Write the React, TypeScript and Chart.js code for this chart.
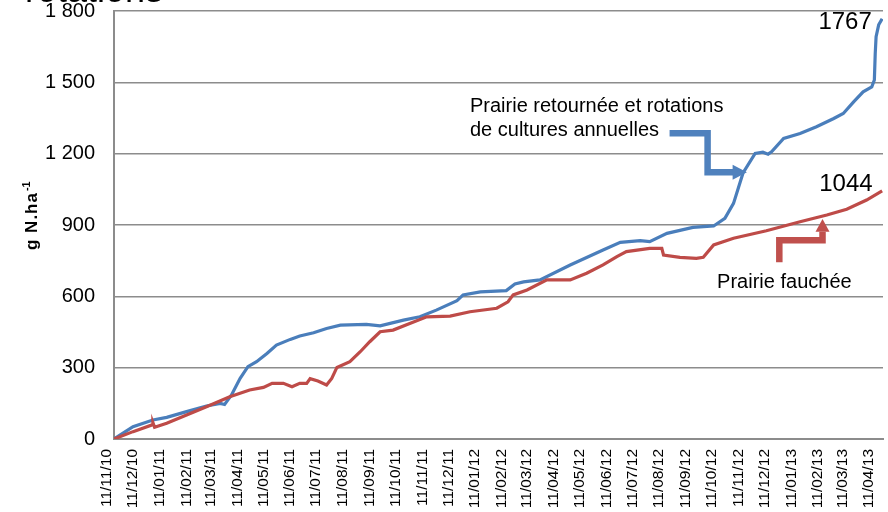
import React, { useEffect, useRef } from 'react';
import { Chart, registerables } from 'chart.js';

Chart.register(...registerables);

// Day 0 = 11/11/10
const START = Date.UTC(2010, 10, 11);
const X_MAX_DAYS = 890;

const tickLabels = [
  '11/11/10', '11/12/10', '11/01/11', '11/02/11', '11/03/11', '11/04/11', '11/05/11', '11/06/11',
  '11/07/11', '11/08/11', '11/09/11', '11/10/11', '11/11/11', '11/12/11', '11/01/12', '11/02/12',
  '11/03/12', '11/04/12', '11/05/12', '11/06/12', '11/07/12', '11/08/12', '11/09/12', '11/10/12',
  '11/11/12', '11/12/12', '11/01/13', '11/02/13', '11/03/13', '11/04/13',
];

const yTicks = [0, 300, 600, 900, 1200, 1500, 1800];

// Prairie retournée et rotations de cultures annuelles (blue)
const blueDays = [
  0, 22, 45, 61, 84, 107, 123, 128, 136, 146,
  155, 165, 177, 188, 204, 215, 231, 246, 262, 292,
  308, 335, 354, 373, 397, 404, 424, 454, 464, 474,
  493, 528, 566, 586, 609, 620, 640, 670, 694, 707,
  717, 728, 742, 751, 757, 761, 775, 794, 813, 833,
  844, 856, 867, 877, 880, 881, 882, 885, 889,
];
const blueValues = [
  0, 52, 80, 91, 115, 139, 150, 145, 185, 255,
  304, 325, 360, 395, 419, 433, 447, 465, 479, 482,
  476, 500, 514, 542, 582, 606, 619, 624, 652, 661,
  669, 732, 795, 827, 834, 830, 865, 890, 896, 928,
  991, 1119, 1201, 1206, 1198, 1208, 1264, 1285, 1313, 1348,
  1369, 1418, 1460, 1481, 1510, 1620, 1692, 1742, 1767,
];

// Prairie fauchée (red)
const redDays = [
  0, 22, 44, 45, 47, 61, 84, 107, 134, 157,
  173, 183, 196, 206, 215, 223, 227, 236, 246, 252,
  258, 273, 285, 296, 308, 323, 343, 362, 389, 412,
  443, 456, 462, 478, 501, 528, 547, 566, 582, 593,
  620, 634, 636, 655, 674, 682, 694, 717, 755, 794,
  825, 848, 871, 889,
];
const redValues = [
  0, 31, 59, 69, 49, 66, 101, 136, 178, 206,
  217, 234, 234, 220, 234, 234, 254, 244, 227, 255,
  301, 325, 367, 409, 451, 458, 487, 514, 517, 535,
  550, 577, 606, 627, 669, 669, 697, 732, 767, 788,
  802, 802, 774, 764, 760, 764, 816, 844, 876, 914,
  942, 966, 1005, 1044,
];

const blueLabelLines = ['Prairie retournée et rotations', 'de cultures annuelles'];
const redLabel = 'Prairie fauchée';
const blueFinalLabel = '1767';
const redFinalLabel = '1044';
const yAxisTitle = 'g N.ha';
const yAxisTitleSup = '-1';
const topFragment = 'rotations';

const FONT = "'Liberation Sans', Arial, sans-serif";
const BLUE = '#4a7ebb';
const RED = '#be4b48';
const BLUE_ARROW = '#4f81bd';
const RED_ARROW = '#c0504d';
const GRID = '#8c8c8c';

function labelToDay(label: string): number {
  const [d, m, y] = label.split('/').map((s) => parseInt(s, 10));
  return Math.round((Date.UTC(2000 + y, m - 1, d) - START) / 86400000);
}
const tickDays = tickLabels.map(labelToDay);

function formatThousands(v: number): string {
  if (v >= 1000) return `${Math.floor(v / 1000)} ${String(v % 1000).padStart(3, '0')}`;
  return String(v);
}

const annotationPlugin = {
  id: 'annotations',
  afterDraw(chart: any) {
    const { ctx, scales } = chart;
    const xs = scales.x;
    const ys = scales.y;
    const px = (d: number) => xs.getPixelForValue(d);
    const py = (v: number) => ys.getPixelForValue(v);
    ctx.save();

    // cut-off title fragment at top-left
    ctx.fillStyle = '#000';
    ctx.font = `36px ${FONT}`;
    ctx.textAlign = 'left';
    ctx.textBaseline = 'alphabetic';
    ctx.fillText(topFragment, 25, 2);

    // y axis title with superscript
    ctx.save();
    const midY = (chart.chartArea.top + chart.chartArea.bottom) / 2;
    ctx.translate(37, midY + 25);
    ctx.rotate(-Math.PI / 2);
    ctx.font = `bold 17px ${FONT}`;
    (ctx as any).letterSpacing = '1px';
    ctx.fillText(yAxisTitle, 0, 0);
    const w = ctx.measureText(yAxisTitle).width;
    (ctx as any).letterSpacing = '0px';
    ctx.font = `bold 11px ${FONT}`;
    ctx.fillText(yAxisTitleSup, w + 1, -7);
    ctx.restore();

    // final value labels
    ctx.font = `24px ${FONT}`;
    ctx.textAlign = 'right';
    ctx.fillText(blueFinalLabel, px(877), py(1724));
    ctx.fillText(redFinalLabel, px(878), py(1042));

    // series labels
    ctx.font = `20px ${FONT}`;
    ctx.textAlign = 'left';
    ctx.fillText(blueLabelLines[0], px(412), py(1374));
    ctx.fillText(blueLabelLines[1], px(412), py(1273));
    ctx.fillText(redLabel, px(698), py(636));

    // blue bent arrow
    ctx.strokeStyle = BLUE_ARROW;
    ctx.fillStyle = BLUE_ARROW;
    ctx.lineWidth = 6.5;
    ctx.lineJoin = 'miter';
    ctx.lineCap = 'butt';
    ctx.beginPath();
    ctx.moveTo(px(643), py(1286));
    ctx.lineTo(px(687), py(1286));
    ctx.lineTo(px(687), py(1122));
    ctx.lineTo(px(717), py(1122));
    ctx.stroke();
    ctx.beginPath();
    ctx.moveTo(px(732.5), py(1122));
    ctx.lineTo(px(716), py(1122) - 7.5);
    ctx.lineTo(px(716), py(1122) + 7.5);
    ctx.closePath();
    ctx.fill();

    // red bent arrow
    ctx.strokeStyle = RED_ARROW;
    ctx.fillStyle = RED_ARROW;
    ctx.beginPath();
    ctx.moveTo(px(770), py(743));
    ctx.lineTo(px(770), py(836));
    ctx.lineTo(px(820), py(836));
    ctx.lineTo(px(820), py(872));
    ctx.stroke();
    ctx.beginPath();
    ctx.moveTo(px(820), py(925));
    ctx.lineTo(px(820) - 7, py(872));
    ctx.lineTo(px(820) + 7, py(872));
    ctx.closePath();
    ctx.fill();

    ctx.restore();
  },
};

export default function App() {
  const canvasRef = useRef<HTMLCanvasElement | null>(null);

  useEffect(() => {
    if (!canvasRef.current) return;
    const chart = new Chart(canvasRef.current, {
      type: 'line',
      data: {
        datasets: [
          {
            label: redLabel,
            data: redDays.map((d, i) => ({ x: d, y: redValues[i] })),
            borderColor: RED,
            borderWidth: 3.2,
            pointRadius: 0,
            tension: 0,
            fill: false,
          },
          {
            label: blueLabelLines.join(' '),
            data: blueDays.map((d, i) => ({ x: d, y: blueValues[i] })),
            borderColor: BLUE,
            borderWidth: 3.2,
            pointRadius: 0,
            tension: 0,
            fill: false,
          },
        ],
      },
      options: {
        responsive: false,
        animation: false,
        devicePixelRatio: 1,
        layout: { padding: { left: 0, top: 11, right: 5, bottom: 0 } },
        plugins: {
          legend: { display: false },
          tooltip: { enabled: false },
          title: { display: false },
        },
        scales: {
          x: {
            type: 'linear',
            min: 0,
            max: X_MAX_DAYS,
            grid: { display: false, drawTicks: false },
            border: { display: true, color: GRID, width: 2 },
            afterBuildTicks: (scale: any) => {
              scale.ticks = tickDays.map((d) => ({ value: d }));
            },
            afterFit: (scale: any) => {
              scale.height = 73;
              scale.paddingLeft = 0;
              scale.paddingRight = 0;
            },
            ticks: {
              autoSkip: false,
              minRotation: 90,
              maxRotation: 90,
              padding: 10,
              labelOffset: -7,
              color: '#000',
              font: { family: FONT, size: 15.5, lineHeight: 1.2 },
              callback: (_v: any, index: number) => tickLabels[index],
            },
          },
          y: {
            min: 0,
            max: 1800,
            afterBuildTicks: (scale: any) => {
              scale.ticks = yTicks.map((v) => ({ value: v }));
            },
            afterFit: (scale: any) => {
              scale.width = 114;
              scale.paddingTop = 0;
              scale.paddingBottom = 0;
            },
            grid: { color: GRID, lineWidth: 1.5, drawTicks: false },
            border: { display: true, color: GRID, width: 2 },
            ticks: {
              padding: 19,
              color: '#000',
              font: { family: FONT, size: 20 },
              callback: (v: any) => formatThousands(Number(v)),
            },
          },
        },
      },
      plugins: [annotationPlugin],
    } as any);
    return () => chart.destroy();
  }, []);

  return (
    <div style={{ position: 'fixed', left: 0, top: 0, width: 888, height: 512, background: '#fff' }}>
      <canvas ref={canvasRef} width={888} height={512} style={{ display: 'block' }} />
    </div>
  );
}
